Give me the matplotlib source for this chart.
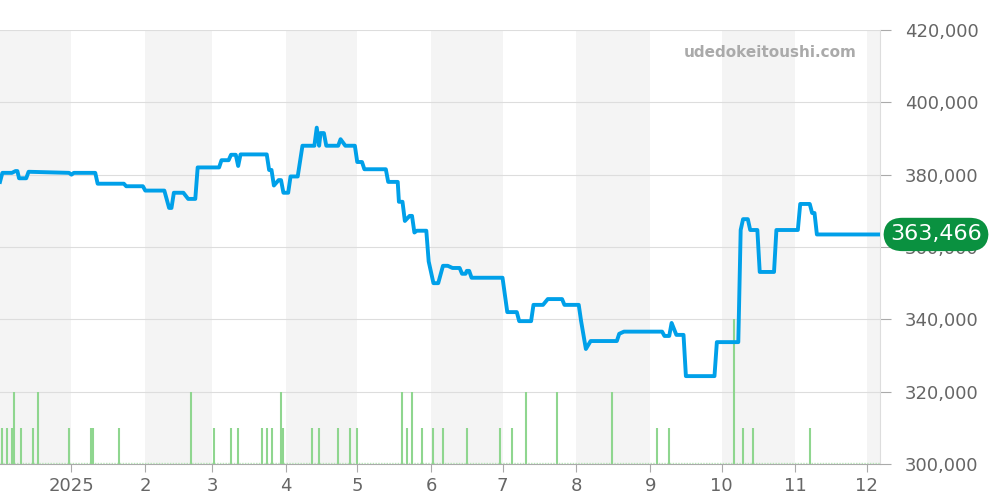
import matplotlib
matplotlib.use("Agg")
import matplotlib.pyplot as plt
import matplotlib.dates as mdates
import numpy as np
import datetime as dt

# price series: day offset from 2025-01-01, price (JPY)
price_days = [-30,-29,-25,-23.5,-22.7,-22,-19,-18,-1,0,1,10,11,22,23,30,31,39,41,42,43,47,49,52,53,62,63,66,67,69,70,71,82,83,84,85,87,88,89,91,92,95,97,102,103,104,104.6,106,107,112,113,115,119,120,122,123,132,133,137,137.5,139,140,142,143,144,145,149,150,152,154,156,158,160,163,164,165.5,166,167,168,181,183,187,188,193,194,198,200,206,207,213,214,216,218,229,230,232,248,249,251,252,254,257,258,270,271,280,281,282,284,285,288,289,295,296,305,306,310,311,312,313,339.5]
price_vals = [378000,380500,380500,381000,381000,379000,379000,380800,380500,380000,380500,380500,377500,377500,376800,376800,375600,375600,370800,370800,375000,375000,373300,373300,382000,382000,384000,384000,385500,385500,382400,385600,385600,381300,381300,377000,378500,378500,375000,375000,379500,379500,388000,388000,393000,388000,391500,391500,388000,388000,389800,388000,388000,383500,383500,381500,381500,378000,378000,372500,372500,367200,368600,368600,364000,364500,364500,356000,350000,350000,354800,354800,354200,354200,352600,352600,353400,353400,351500,351500,342000,342000,339500,339500,344000,344000,345600,345600,344000,344000,339500,331800,334000,334000,336000,336600,336600,335400,335400,339000,335700,335700,324300,324300,333700,333700,364700,367700,367700,364700,364700,353100,353100,364700,364700,371900,371900,369400,369400,363466,363466]

# volume: day offset, count
vol_days = [-29,-27,-25,-24,-21,-16,-14,-1,8,9,20,50,60,67,70,80,82,84,88,89,101,104,112,117,120,139,141,143,147,152,156,166,180,185,191,204,227,246,251,278,282,286,310]
vol_vals = [1,1,1,2,1,1,2,1,1,1,1,2,1,1,1,1,1,1,2,1,1,1,1,1,1,2,1,2,1,1,1,1,1,1,2,2,2,1,1,4,1,1,1]

last_price = 363466
month_labels = ["2025","2","3","4","5","6","7","8","9","10","11","12"]

base = dt.datetime(2025,1,1)
def todate(d):
    return mdates.date2num(base) + np.asarray(d, dtype=float)

fig = plt.figure(figsize=(10,5), dpi=100)
ax = fig.add_axes([0.0, 0.072, 0.88, 0.868])
ax2 = ax.twinx()
ax3 = ax.twinx()
x0, x1 = todate(-30), todate(339.5)

months = [dt.datetime(2024,12,1)] + [dt.datetime(2025,m,1) for m in range(1,13)] + [dt.datetime(2026,1,1)]
for i in range(len(months)-1):
    if i % 2 == 0:
        ax.axvspan(mdates.date2num(months[i]), mdates.date2num(months[i+1]), color="#f4f4f4", zorder=0, lw=0)

ax.set_xlim(x0, x1)
ax.set_ylim(300000, 420000)
ax.yaxis.tick_right()
ax.set_yticks(np.arange(300000, 420001, 20000))
ax.set_yticklabels([f"{v:,}" for v in range(300000, 420001, 20000)])
ax.grid(axis="y", color="#dddddd", lw=0.8)
ax.set_axisbelow(True)
ticks = [mdates.date2num(dt.datetime(2025,m,1)) for m in range(1,13)]
ax.set_xticks(ticks)
ax.set_xticklabels(month_labels)
ax.tick_params(axis="both", colors="#aaaaaa", labelcolor="#666666", labelsize=13, length=6)
ax.tick_params(axis="y", pad=10, length=8, right=True, left=False, labelright=True, labelleft=False)
for s in ["top", "left"]:
    ax.spines[s].set_visible(False)
ax.spines["right"].set_color("#dddddd")
ax.spines["bottom"].set_color("#aaaaaa")

# volume
ax2.set_ylim(0, 12)
ax2.set_xlim(x0, x1)
ax2.axhline(0.02, color="#b8e6b8", lw=1, ls=(0, (1, 1)))
ax2.vlines(todate(vol_days), 0, vol_vals, color="#8fd68f", lw=1.5)
ax2.axis("off")

ax3.set_ylim(300000, 420000)
ax3.set_xlim(x0, x1)
ax3.axis("off")
ax3.plot(todate(price_days), price_vals, color="#00a0e9", lw=2.8, solid_joinstyle="round")

fig.text(0.857, 0.895, "udedokeitoushi.com", ha="right", va="center", fontsize=11, fontweight="bold", color="#aaaaaa")
ax3.text(1.0 + 0.056/0.88, last_price, f"{last_price:,}", transform=ax3.get_yaxis_transform(),
         ha="center", va="center", fontsize=16, color="white", clip_on=False,
         bbox=dict(boxstyle="round,pad=0.3,rounding_size=0.85", fc="#0a9140", ec="none"))

fig.savefig("out.png")
